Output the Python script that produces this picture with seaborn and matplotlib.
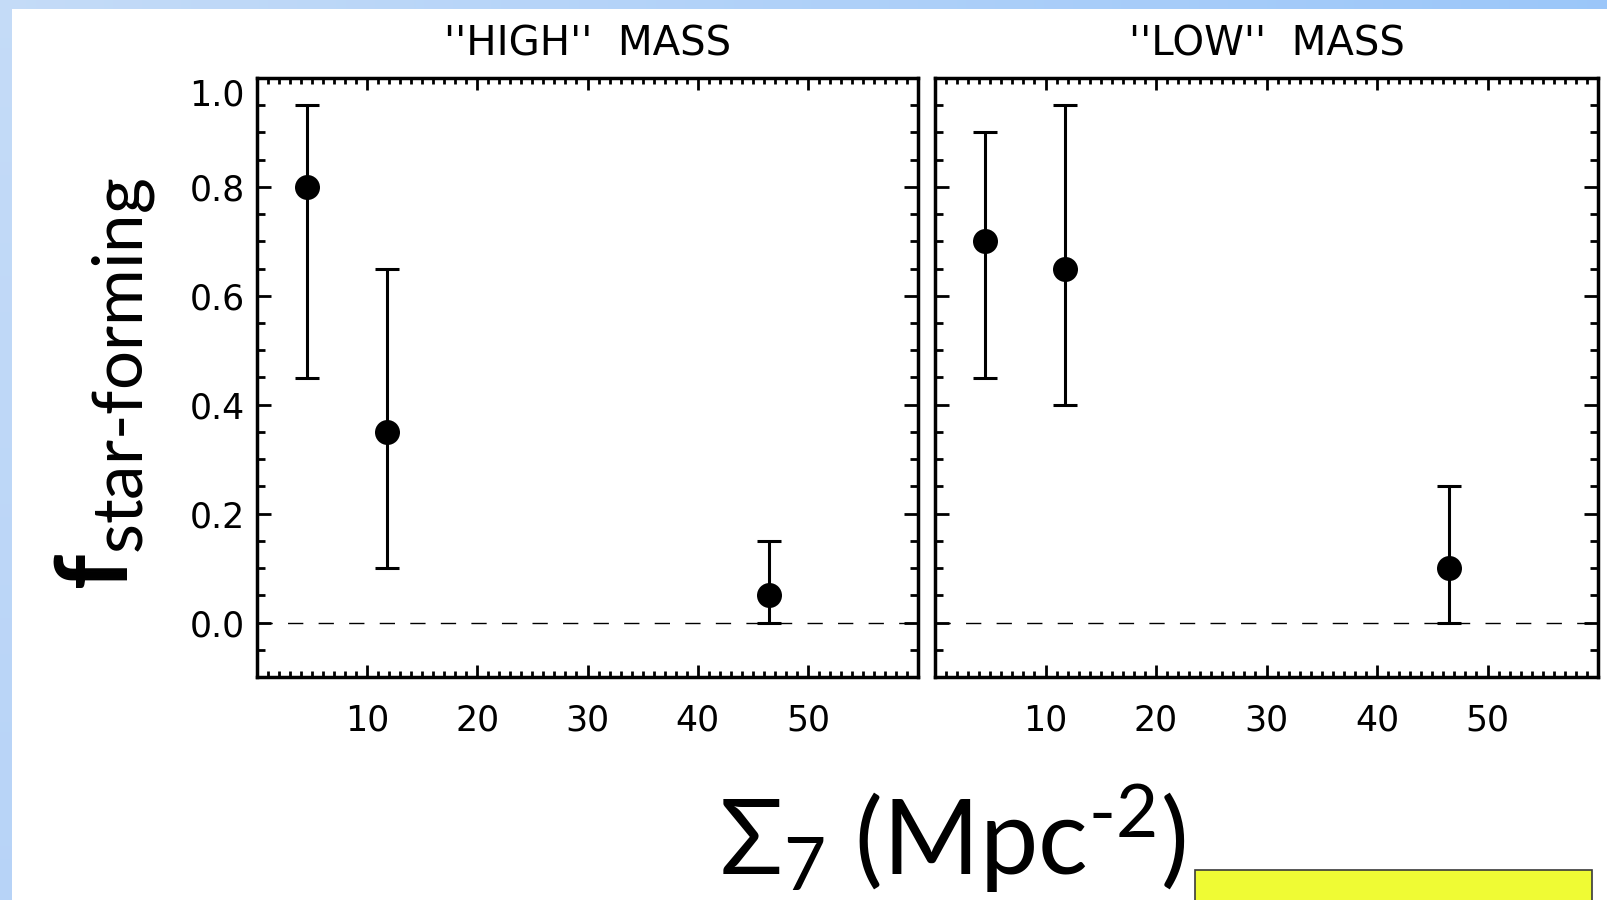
import numpy as np
import pandas as pd
import matplotlib
matplotlib.use("Agg")
import matplotlib.pyplot as plt
import seaborn as sns
from matplotlib.ticker import FixedLocator, MultipleLocator
from matplotlib.patches import Rectangle

# Local projected density of the three bins (Mpc^-2)
sigma7 = [4.5, 11.8, 46.5]

# Star-forming fraction with its error range, high-mass sample
high_frac = [0.80, 0.35, 0.05]
high_upper = [0.95, 0.65, 0.15]
high_lower = [0.45, 0.10, 0.00]

# Star-forming fraction with its error range, low-mass sample
low_frac = [0.70, 0.65, 0.10]
low_upper = [0.90, 0.95, 0.25]
low_lower = [0.45, 0.40, 0.00]

panel_titles = ["''HIGH''  MASS", "''LOW''  MASS"]
x_ticks = [10, 20, 30, 40, 50]
x_tick_labels = ["10", "20", "30", "40", "50"]
y_ticks = [0.0, 0.2, 0.4, 0.6, 0.8, 1.0]
y_tick_labels = ["0.0", "0.2", "0.4", "0.6", "0.8", "1.0"]

sns.set_theme(style="white")
plt.rcParams["font.family"] = ["Lato", "DejaVu Sans"]
plt.rcParams["mathtext.fontset"] = "custom"
plt.rcParams["mathtext.rm"] = "Lato"
plt.rcParams["mathtext.it"] = "Lato:italic"
plt.rcParams["mathtext.bf"] = "Lato:bold"

PANEL_FONT = ["DejaVu Sans"]

W, H = 1607, 900
fig = plt.figure(figsize=(W / 100, H / 100), dpi=100)
fig.patch.set_facecolor("white")

# Slide frame: light-blue gradient band on the top and left edges
bg = fig.add_axes([0, 0, 1, 1], zorder=-5)
nx, ny = 64, 32
gx = np.linspace(0, 1, nx)[None, :, None]
gy = np.linspace(0, 1, ny)[:, None, None]
c_bl = np.array([0.72, 0.83, 0.97])
c_tl = np.array([0.77, 0.86, 0.97])
c_br = np.array([0.66, 0.80, 0.98])
c_tr = np.array([0.61, 0.78, 0.98])
grad = (c_bl * (1 - gx) * (1 - gy) + c_br * gx * (1 - gy)
        + c_tl * (1 - gx) * gy + c_tr * gx * gy)
bg.imshow(grad, extent=[0, 1, 0, 1], aspect="auto", origin="lower",
          interpolation="bilinear")
bg.add_patch(Rectangle((12 / W, -0.01), 1.0, (H - 9) / H + 0.01,
                       facecolor="white", edgecolor="none"))
bg.set_xlim(0, 1)
bg.set_ylim(0, 1)
bg.set_axis_off()

ax_bottom = (H - 677) / H
ax_height = (677 - 78) / H
ax_high = fig.add_axes([257 / W, ax_bottom, (918 - 257) / W, ax_height])
ax_low = fig.add_axes([935 / W, ax_bottom, (1598 - 935) / W, ax_height])


def draw_panel(ax, frac, upper, lower, title, show_ylabels):
    df = pd.DataFrame({"sigma7": sigma7, "frac": frac})
    yerr = [np.subtract(frac, lower), np.subtract(upper, frac)]

    ax.axhline(0.0, color="black", lw=1.0, dashes=(11, 11), zorder=1)
    ax.errorbar(sigma7, frac, yerr=yerr, fmt="none", ecolor="black",
                elinewidth=2.2, capsize=8.3, capthick=2.2, zorder=2)
    sns.scatterplot(data=df, x="sigma7", y="frac", ax=ax, s=18 ** 2,
                    color="black", edgecolor="black", linewidth=0,
                    zorder=3, legend=False)

    ax.set_xlim(0, 60)
    ax.set_ylim(-0.1, 1.0)
    ax.set_xlabel("")
    ax.set_ylabel("")
    ax.set_facecolor("white")
    ax.grid(False)

    ax.xaxis.set_major_locator(FixedLocator(x_ticks))
    ax.xaxis.set_minor_locator(MultipleLocator(1))
    ax.set_xticklabels(x_tick_labels, family=PANEL_FONT)
    ax.yaxis.set_major_locator(FixedLocator(y_ticks))
    ax.yaxis.set_minor_locator(MultipleLocator(0.05))
    ax.set_yticklabels(y_tick_labels, family=PANEL_FONT)

    for sp in ax.spines.values():
        sp.set_visible(True)
        sp.set_color("black")
        sp.set_linewidth(2.5)

    ax.tick_params(axis="both", which="both", direction="in", top=True,
                   bottom=True, left=True, right=True, color="black",
                   width=2.0, labelcolor="black")
    ax.tick_params(axis="x", which="major", length=8.5, pad=19, labelsize=25)
    ax.tick_params(axis="x", which="minor", length=4.5)
    ax.tick_params(axis="y", which="major", length=10, pad=9, labelsize=25)
    ax.tick_params(axis="y", which="minor", length=5.5)
    if show_ylabels:
        ax.yaxis.get_major_ticks()[-1].label1.set_verticalalignment("top")
    else:
        ax.tick_params(axis="y", labelleft=False)

    ax.set_title(title, fontsize=29, fontweight="normal", pad=16,
                 color="black", family=PANEL_FONT)


draw_panel(ax_high, high_frac, high_upper, high_lower, panel_titles[0], True)
draw_panel(ax_low, low_frac, low_upper, low_lower, panel_titles[1], False)

# Axis titles
fig.text(128 / W, (H - 590) / H, r"$\mathbf{f}_{\text{star-forming}}$",
         rotation=90, rotation_mode="anchor", ha="left", va="baseline",
         fontsize=71, color="black")
fig.text(952 / W, (H - 875) / H, r"Σ$_{\mathrm{7}}$ (Mpc$^{\text{-}2}$)",
         ha="center", va="baseline", fontsize=75, color="black")

# Highlight box in the lower right corner
fig.add_artist(Rectangle((1195 / W, -0.05), (1592 - 1195) / W,
                         (H - 870) / H + 0.05, transform=fig.transFigure,
                         facecolor="#EFFB34", edgecolor="#3a3a3a", lw=1.2))

fig.savefig("out.png", dpi=100, facecolor=fig.get_facecolor())
